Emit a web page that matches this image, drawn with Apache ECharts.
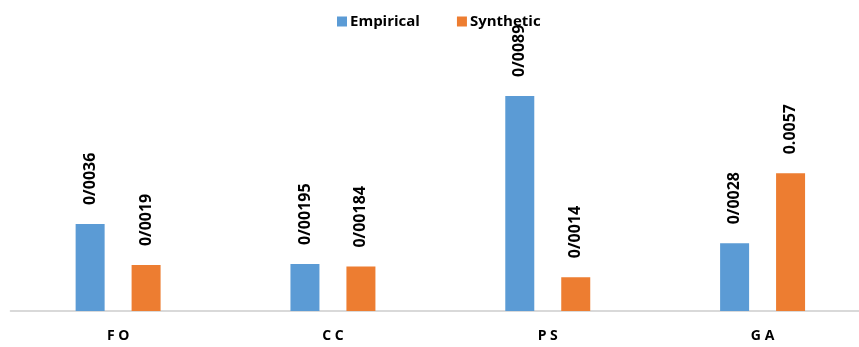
<!DOCTYPE html>
<html><head><meta charset="utf-8">
<script src="https://cdn.jsdelivr.net/npm/echarts@6/dist/echarts.min.js"></script>
<style>html,body{margin:0;padding:0;background:#fff;overflow:hidden}#c{width:870px;height:347px}</style>
</head><body><div id="c"></div>
<script>
const categories = ['F O', 'C C', 'P S', 'G A'];
const empirical = [0.0036, 0.00195, 0.0089, 0.0028];
const synthetic = [0.0019, 0.00184, 0.0014, 0.0057];
const empiricalLabels = ['0/0036', '0/00195', '0/0089', '0/0028'];
const syntheticLabels = ['0/0019', '0/00184', '0/0014', '0.0057'];

const chart = echarts.init(document.getElementById('c'));
const font = '"Open Sans", "Liberation Sans", sans-serif';
function lbl(texts) {
  return {
    show: true, position: 'top', rotate: 90, align: 'left', verticalAlign: 'middle',
    distance: 17, offset: [2, 0], color: '#000', fontWeight: 'bold', fontSize: 16, fontFamily: font,
    formatter: p => texts[p.dataIndex]
  };
}
chart.setOption({
  animation: false,
  legend: {
    top: 9, left: 332, icon: 'rect', itemWidth: 10, itemHeight: 10, itemGap: 37,
    textStyle: { color: '#000', fontWeight: 'bold', fontSize: 15, fontFamily: font, padding: [0, 0, 0, -2] },
    data: ['Empirical', 'Synthetic']
  },
  grid: { left: 10.7, right: 0, top: 69.4, bottom: 36 },
  xAxis: {
    type: 'category', data: categories,
    axisLine: { lineStyle: { color: '#d9d9d9', width: 2 } },
    axisTick: { show: false },
    axisLabel: { color: '#000', fontWeight: 'bold', fontSize: 14, fontFamily: font, margin: 18, offset: [-3, 0] }
  },
  yAxis: { type: 'value', min: 0, max: 0.01, show: false, splitLine: { show: false } },
  series: [
    { name: 'Empirical', type: 'bar', data: empirical, barWidth: 29, barGap: '93%',
      itemStyle: { color: '#5B9BD5' }, label: lbl(empiricalLabels) },
    { name: 'Synthetic', type: 'bar', data: synthetic, barWidth: 29,
      itemStyle: { color: '#ED7D31' }, label: lbl(syntheticLabels) }
  ]
});
</script></body></html>
